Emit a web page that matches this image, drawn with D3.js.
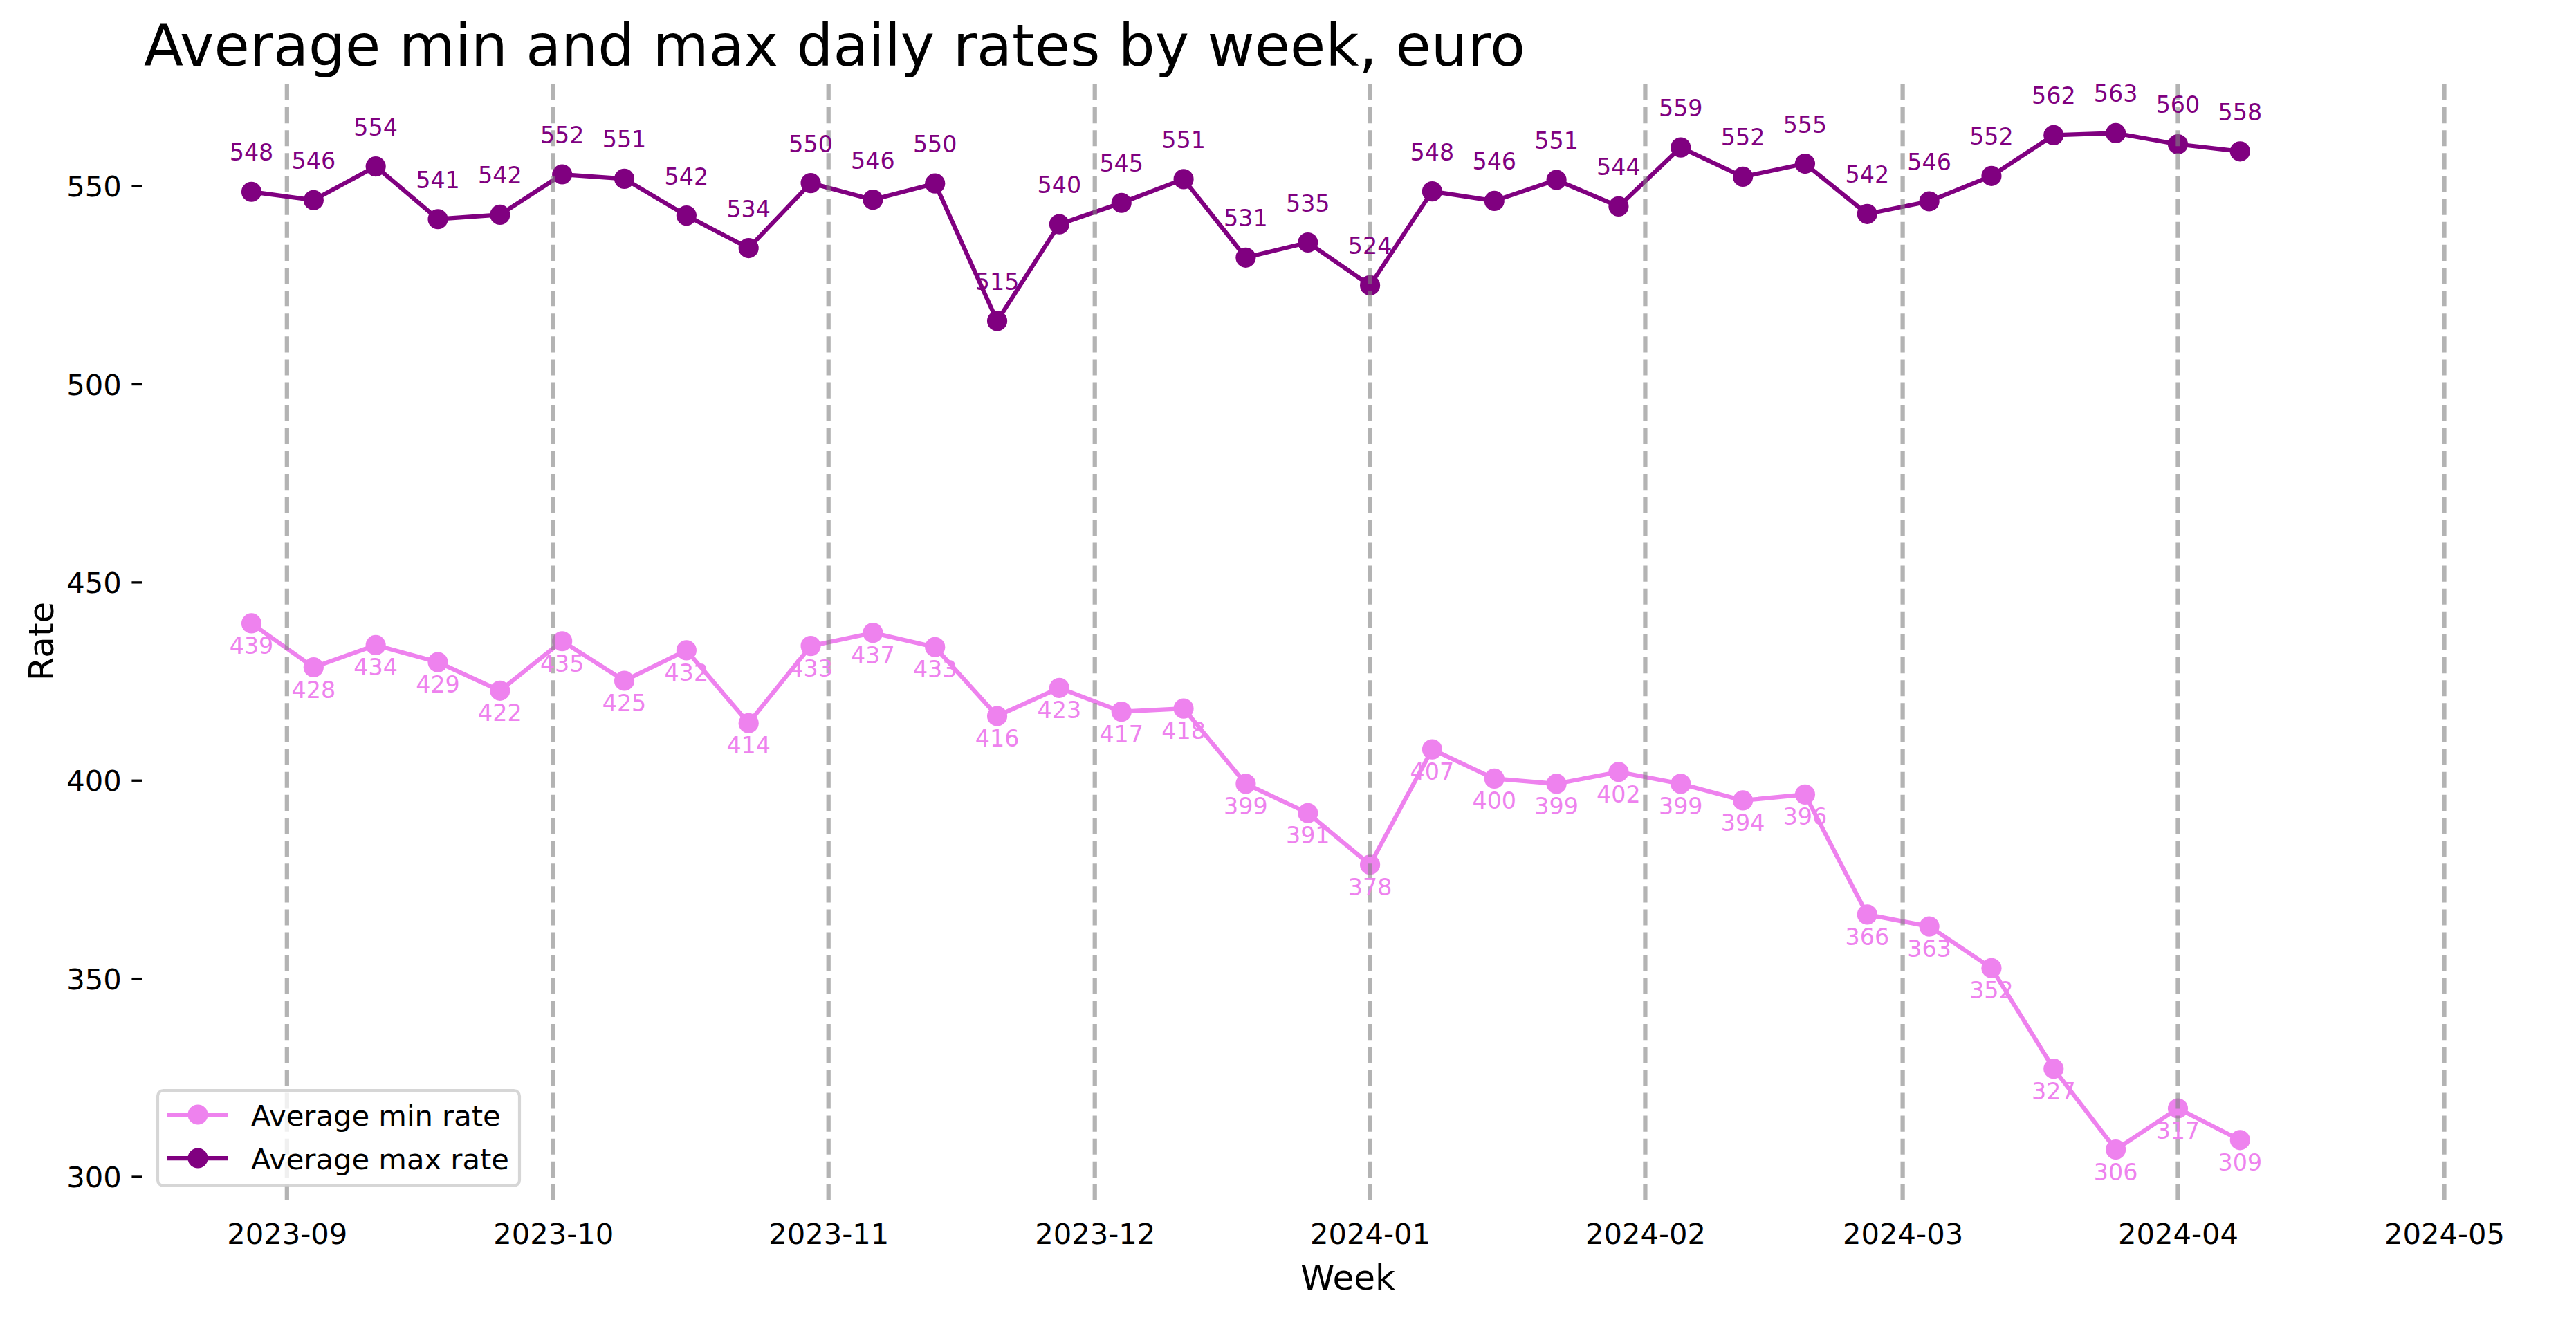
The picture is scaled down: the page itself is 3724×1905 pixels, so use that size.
<!DOCTYPE html>
<html>
<head>
<meta charset="utf-8">
<script src="https://cdn.jsdelivr.net/npm/d3@7"></script>
<style>
  html, body { margin: 0; padding: 0; background: #fff; }
  svg { display: block; font-family: "DejaVu Sans", sans-serif; }
</style>
</head>
<body>
<svg id="chart" width="3724" height="1905"></svg>
<script>
// ---- data ----
const weeks = ["2023-08-28","2023-09-04","2023-09-11","2023-09-18","2023-09-25","2023-10-02","2023-10-09","2023-10-16","2023-10-23","2023-10-30","2023-11-06","2023-11-13","2023-11-20","2023-11-27","2023-12-04","2023-12-11","2023-12-18","2023-12-25","2024-01-01","2024-01-08","2024-01-15","2024-01-22","2024-01-29","2024-02-05","2024-02-12","2024-02-19","2024-02-26","2024-03-04","2024-03-11","2024-03-18","2024-03-25","2024-04-01","2024-04-08"];
const minRate = [439.6, 428.5, 434.1, 429.8, 422.6, 435.1, 425.1, 432.8, 414.4, 433.9, 437.2, 433.6, 416.2, 423.3, 417.3, 418.1, 399.1, 391.7, 378.7, 407.8, 400.4, 399.1, 402.1, 399.1, 394.9, 396.4, 366.1, 363.1, 352.6, 327.2, 306.8, 317.2, 309.2];
const maxRate = [548.5, 546.4, 554.9, 541.6, 542.7, 552.9, 551.8, 542.5, 534.3, 550.7, 546.5, 550.6, 515.9, 540.3, 545.7, 551.7, 531.9, 535.7, 524.9, 548.6, 546.2, 551.5, 544.8, 559.7, 552.3, 555.6, 542.9, 546.1, 552.5, 562.8, 563.3, 560.5, 558.7];
const monthLines = ["2023-09-01","2023-10-01","2023-11-01","2023-12-01","2024-01-01","2024-02-01","2024-03-01","2024-04-01","2024-05-01"];
const monthLabels = ["2023-09","2023-10","2023-11","2023-12","2024-01","2024-02","2024-03","2024-04","2024-05"];
const yTicks = [300, 350, 400, 450, 500, 550];
const seriesNames = ["Average min rate", "Average max rate"];
const seriesColors = ["#EE82EE", "#800080"];
const titleText = "Average min and max daily rates by week, euro";

(function () {
// ---- layout ----
const PT = 300 / 72;
const pLeft = 205, pRight = 3692, pTop = 119, pBottom = 1735;
const parse = d3.utcParse("%Y-%m-%d");
const dates = weeks.map(parse);
const vDates = monthLines.map(parse);

const svg = d3.select("#chart");
svg.append("rect").attr("width", 3724).attr("height", 1905).attr("fill", "#fff");

// x domain with 5% margins (data + vertical lines)
const allX = dates.concat(vDates);
const xMin = d3.min(allX), xMax = d3.max(allX);
const span = xMax - xMin;
const x = d3.scaleUtc()
  .domain([new Date(+xMin - 0.05 * span), new Date(+xMax + 0.05 * span)])
  .range([pLeft, pRight]);

const allY = minRate.concat(maxRate);
const yLo = d3.min(allY), yHi = d3.max(allY), yR = yHi - yLo;
const y = d3.scaleLinear()
  .domain([yLo - 0.05 * yR, yHi + 0.05 * yR])
  .range([pBottom, pTop]);

// ---- y axis (no spine) ----
const yAxis = d3.axisLeft(y).tickValues(yTicks).tickSize(3.5 * PT).tickPadding(3.5 * PT).tickFormat(d3.format("d"));
const gy = svg.append("g").attr("transform", `translate(${pLeft},0)`).call(yAxis);
gy.select(".domain").remove();
gy.selectAll(".tick line").attr("stroke", "#000").attr("stroke-width", 0.8 * PT);
gy.selectAll(".tick text").attr("font-size", 10 * PT).attr("fill", "#000")
  .attr("font-family", "DejaVu Sans").attr("dy", "0.36em");

// ---- x axis (labels only) ----
const xAxis = d3.axisBottom(x).tickValues(vDates).tickSize(0).tickPadding(0)
  .tickFormat((d, i) => monthLabels[i]);
const gx = svg.append("g").attr("transform", `translate(0,${pBottom})`).call(xAxis);
gx.select(".domain").remove();
gx.selectAll(".tick line").remove();
gx.selectAll(".tick text").attr("font-size", 10 * PT).attr("fill", "#000")
  .attr("font-family", "DejaVu Sans").attr("dy", null).attr("y", 63);

// ---- lines + markers ----
const series = [minRate, maxRate];
const line = d3.line().x((d, i) => x(dates[i])).y(d => y(d));
series.forEach((vals, s) => {
  svg.append("path").datum(vals).attr("d", line).attr("fill", "none")
    .attr("stroke", seriesColors[s]).attr("stroke-width", 1.5 * PT)
    .attr("stroke-linejoin", "round").attr("stroke-linecap", "square");
  svg.append("g").selectAll("circle").data(vals).join("circle")
    .attr("cx", (d, i) => x(dates[i])).attr("cy", d => y(d))
    .attr("r", 3.5 * PT).attr("fill", seriesColors[s]);
});

// ---- vertical dashed month lines ----
svg.append("g").selectAll("line").data(vDates).join("line")
  .attr("x1", d => x(d)).attr("x2", d => x(d))
  .attr("y1", pBottom).attr("y2", pTop)
  .attr("stroke", "gray").attr("stroke-opacity", 0.6)
  .attr("stroke-width", 1.5 * PT)
  .attr("stroke-dasharray", `${5.55 * PT},${2.4 * PT}`);

// ---- value labels ----
svg.append("g").selectAll("text").data(minRate).join("text")
  .attr("x", (d, i) => x(dates[i])).attr("y", d => y(d) + 44)
  .attr("text-anchor", "middle").attr("font-size", 8 * PT)
  .attr("fill", seriesColors[0]).text(d => Math.floor(d));
svg.append("g").selectAll("text").data(maxRate).join("text")
  .attr("x", (d, i) => x(dates[i])).attr("y", d => y(d) - 45)
  .attr("text-anchor", "middle").attr("font-size", 8 * PT)
  .attr("fill", seriesColors[1]).text(d => Math.floor(d));

// ---- title & axis labels ----
svg.append("text").attr("x", pLeft + 3).attr("y", 95).attr("font-size", 20 * PT)
  .attr("fill", "#000").text(titleText);
svg.append("text").attr("x", (pLeft + pRight) / 2).attr("y", 1864)
  .attr("text-anchor", "middle").attr("font-size", 12 * PT).attr("fill", "#000").text("Week");
svg.append("text").attr("transform", `translate(77,${(pTop + pBottom) / 2}) rotate(-90)`)
  .attr("text-anchor", "middle").attr("font-size", 12 * PT).attr("fill", "#000").text("Rate");

// ---- legend ----
const lg = svg.append("g");
lg.append("rect").attr("x", 228).attr("y", 1576).attr("width", 523).attr("height", 138)
  .attr("rx", 0.2 * 10 * PT).attr("fill", "#fff").attr("fill-opacity", 0.8)
  .attr("stroke", "#ccc").attr("stroke-opacity", 0.8).attr("stroke-width", 1 * PT);
const rowsY = [1611, 1674];
seriesNames.forEach((name, s) => {
  const cy = rowsY[s];
  lg.append("line").attr("x1", 241.5).attr("x2", 330).attr("y1", cy).attr("y2", cy)
    .attr("stroke", seriesColors[s]).attr("stroke-width", 1.5 * PT);
  lg.append("circle").attr("cx", 286).attr("cy", cy).attr("r", 3.5 * PT).attr("fill", seriesColors[s]);
  lg.append("text").attr("x", 363).attr("y", cy + 15.5).attr("font-size", 10 * PT)
    .attr("fill", "#000").text(name);
});
})();
</script>
</body>
</html>
